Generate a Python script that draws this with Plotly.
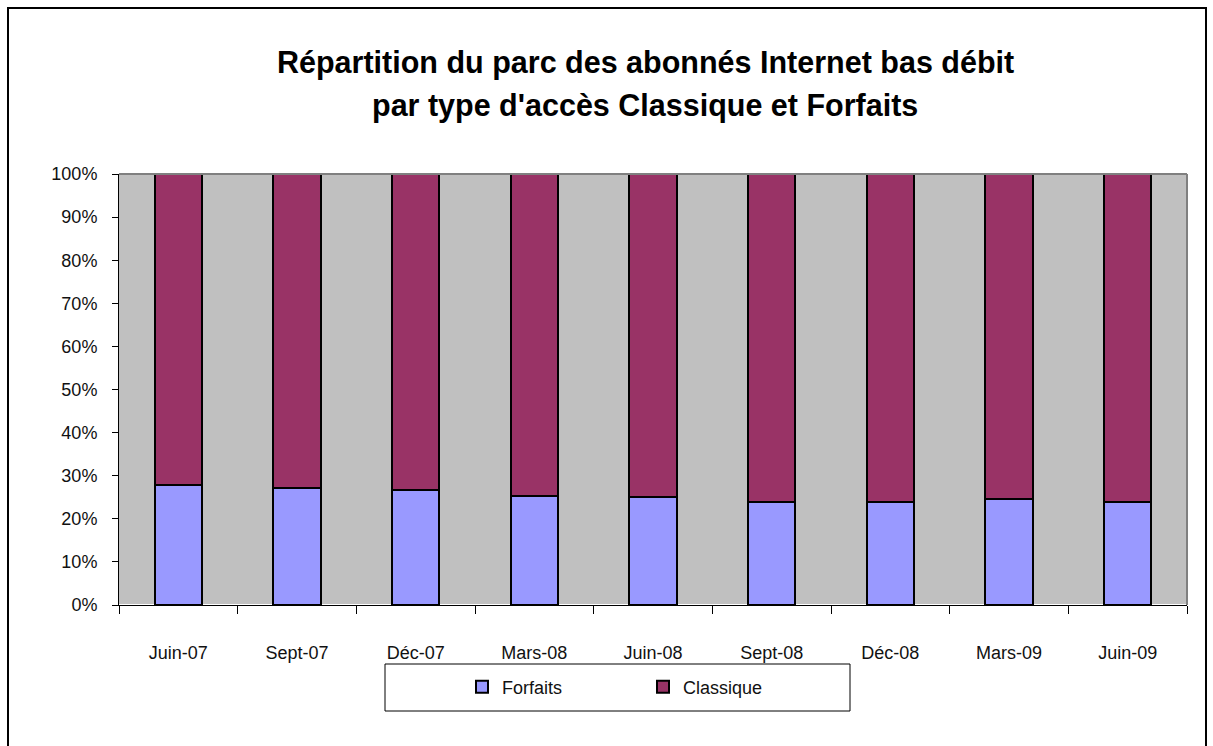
import plotly.graph_objects as go

categories = ["Juin-07", "Sept-07", "Déc-07", "Mars-08", "Juin-08", "Sept-08", "Déc-08", "Mars-09", "Juin-09"]
forfaits = [27.9, 27.2, 26.6, 25.4, 25.0, 23.9, 23.9, 24.6, 23.9]
classique = [100 - v for v in forfaits]
y_ticks = [0, 10, 20, 30, 40, 50, 60, 70, 80, 90, 100]
y_tick_labels = [f"{v}%" for v in y_ticks]
title_lines = ["Répartition du parc des abonnés Internet bas débit",
               "par type d'accès Classique et Forfaits"]

W, H = 1213, 746
L, R, T, B = 119, 1187, 174, 605

def px(x):
    return (x - L) / (R - L)

def py(y):
    return (B - y) / (B - T)

FONT = "Liberation Sans, Arial, sans-serif"

fig = go.Figure()
fig.add_trace(go.Bar(x=categories, y=forfaits, name="Forfaits",
                     marker=dict(color="#9999FF", line=dict(color="black", width=2))))
fig.add_trace(go.Bar(x=categories, y=classique, name="Classique",
                     marker=dict(color="#993366", line=dict(color="black", width=2))))

annotations = [
    dict(text=f"<b>{title_lines[0]}</b>", xref="paper", yref="paper", x=px(645), y=py(62),
         xanchor="center", yanchor="middle", showarrow=False,
         font=dict(size=30.5, color="black", family=FONT)),
    dict(text=f"<b>{title_lines[1]}</b>", xref="paper", yref="paper", x=px(645), y=py(105),
         xanchor="center", yanchor="middle", showarrow=False,
         font=dict(size=30.5, color="black", family=FONT)),
]

fig.update_layout(
    width=W, height=H,
    barmode="stack", bargap=0.6,
    paper_bgcolor="white", plot_bgcolor="#C0C0C0",
    margin=dict(l=L, r=W - R, t=T, b=H - B, pad=0),
    font=dict(family=FONT, size=18, color="#111"),
    showlegend=True,
    legend=dict(orientation="h", traceorder="normal", x=px(462), xanchor="left", y=py(687), yanchor="middle",
                bgcolor="rgba(0,0,0,0)", borderwidth=0, entrywidth=136,
                font=dict(size=18), itemsizing="constant"),
    xaxis=dict(type="category", tickson="boundaries", ticks="outside", ticklen=8, tickcolor="black",
               showline=True, linecolor="black", linewidth=1, showgrid=False,
               ticklabelstandoff=31, tickfont=dict(size=18)),
    yaxis=dict(range=[0, 100], tickvals=y_ticks, ticktext=y_tick_labels, ticks="outside", ticklen=6,
               tickcolor="black", showline=True, linecolor="black", linewidth=1, showgrid=False,
               tickfont=dict(size=18), ticklabelstandoff=11),
    annotations=annotations,
    shapes=[
        dict(type="rect", xref="paper", yref="paper", x0=px(8), x1=px(1206), y0=py(770), y1=py(8),
             line=dict(color="black", width=2), fillcolor="rgba(0,0,0,0)", layer="above"),
        dict(type="line", xref="paper", yref="paper", x0=0, x1=1, y0=1, y1=1,
             line=dict(color="#808080", width=2)),
        dict(type="line", xref="paper", yref="paper", x0=1, x1=1, y0=0, y1=1,
             line=dict(color="#808080", width=2)),
        dict(type="rect", xref="paper", yref="paper", x0=px(385), x1=px(850), y0=py(711), y1=py(664),
             line=dict(color="black", width=1), fillcolor="rgba(0,0,0,0)"),
    ],
)
fig.write_html("out.html", config={"displayModeBar": False},
               post_script="document.body.style.margin='0';document.body.style.overflow='hidden';")
